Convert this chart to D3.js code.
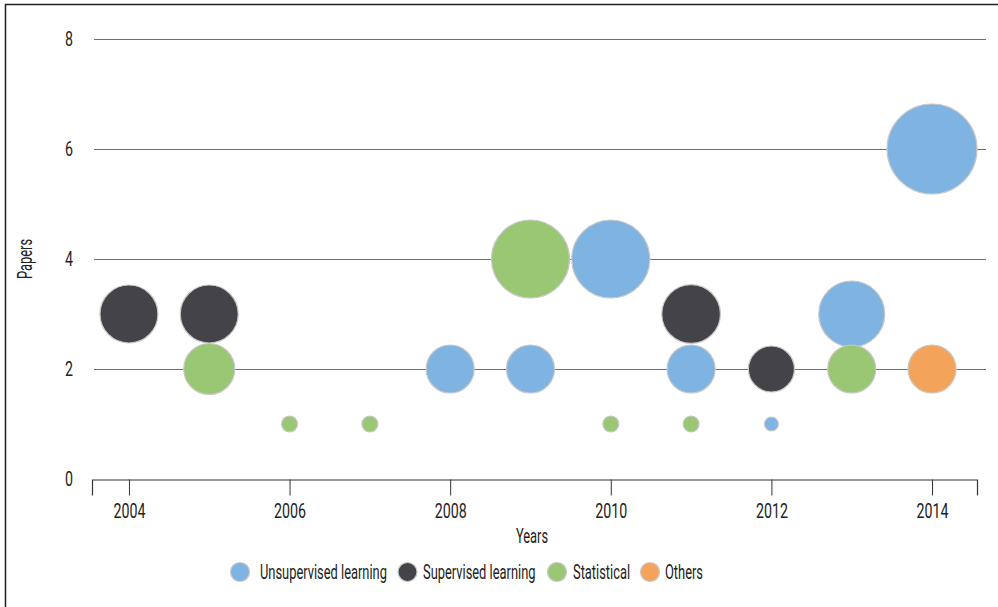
<!DOCTYPE html>
<html><head><meta charset="utf-8">
<script src="https://cdn.jsdelivr.net/npm/d3@7"></script>
<style>
html,body{margin:0;padding:0;background:#fff;}
svg{display:block;}
text{font-family:Roboto,"Noto Sans",sans-serif;fill:#222;}
</style></head>
<body>
<svg id="chart" width="998" height="607"></svg>
<script>
const seriesNames = ["Unsupervised learning","Supervised learning","Statistical","Others"];
const seriesColors = ["#7FB3E1","#434348","#9AC774","#F4A35B"];
// [year, papers, bubble size]
const unsupervised = [[2008,2,1.71],[2009,2,1.71],[2010,4,4.51],[2011,2,1.71],[2012,1,0.145],[2013,3,3.23],[2014,6,6]];
const supervised   = [[2004,3,2.49],[2005,3,2.49],[2011,3,2.55],[2012,2,1.57]];
const statistical  = [[2005,2,1.93],[2006,1,0.19],[2007,1,0.19],[2009,4,4.51],[2010,1,0.19],[2011,1,0.19],[2013,2,1.71]];
const others       = [[2014,2,1.71]];
const seriesData = [unsupervised, supervised, statistical, others];
const xTicks = [2004,2006,2008,2010,2012,2014];
const yTicks = [0,2,4,6,8];
const xDomain = [2003.54, 2014.56];
const yDomain = [0, 8];
const sizeDomain = [0, 6];

const FS = "20px";
const svg = d3.select("#chart");
function natWidth(str){
  const p = svg.append("text").style("font-size",FS).text(str);
  const w = p.node().getComputedTextLength(); p.remove(); return w;
}
// horizontal condensation, so Roboto resembles the narrow face of the original
const condWord = 127 / natWidth("Unsupervised learning");
const condNum = 32 / natWidth("2004");

// frame
svg.append("path").attr("d","M5.5,607 L5.5,4.5 L998,4.5").attr("fill","none").attr("stroke","#222").attr("stroke-width",1.5);

const x = d3.scaleLinear().domain(xDomain).range([92, 977]);
const y = d3.scaleLinear().domain(yDomain).range([479, 39]);
const r = d3.scaleSqrt().domain(sizeDomain).range([0, 45]);

// grid lines
svg.append("g").selectAll("line").data(yTicks.filter(d=>d>0)).join("line")
  .attr("x1", 94).attr("x2", 986)
  .attr("y1", d=>Math.round(y(d))+0.5).attr("y2", d=>Math.round(y(d))+0.5)
  .attr("stroke","#6e6e6e").attr("stroke-width",1);

// y labels
svg.append("g").selectAll("text").data(yTicks).join("text")
  .attr("transform", d=>`translate(73,${y(d)}) scale(${condNum},1)`).attr("dy","0.35em")
  .attr("text-anchor","end").style("font-size",FS).text(d=>d);

// x axis
const xAxis = d3.axisBottom(x).tickValues(xTicks).tickFormat(d3.format("d")).tickSize(16).tickSizeOuter(16).tickPadding(8);
const gx = svg.append("g").attr("transform","translate(0,479.5)").call(xAxis);
gx.select(".domain").attr("stroke","#333").attr("stroke-width",1.2);
gx.selectAll(".tick line").attr("stroke","#333");
gx.selectAll(".tick text").style("font-size",FS).attr("fill","#222")
  .style("font-family","Roboto,'Noto Sans',sans-serif")
  .attr("transform",`scale(${condNum},1)`);

svg.append("text").attr("transform",`translate(532,536) scale(${condWord},1)`).attr("dy","0.35em").attr("text-anchor","middle")
  .style("font-size",FS).text("Years");
svg.append("text").attr("transform",`translate(25,259) rotate(-90) scale(${condWord},1)`).attr("dy","0.35em")
  .attr("text-anchor","middle").style("font-size",FS).text("Papers");

// bubbles
seriesData.forEach((data,i)=>{
  svg.append("g").selectAll("circle").data(data).join("circle")
    .attr("cx", d=>x(d[0])).attr("cy", d=>y(d[1])).attr("r", d=>r(d[2]))
    .attr("fill", seriesColors[i]).attr("stroke","#c8c8c8").attr("stroke-width",1.2);
});

// legend
const legendCircleX = [240, 407.5, 557, 650];
const legendTextX = [260, 423, 573, 665];
const lg = svg.append("g");
seriesNames.forEach((name,i)=>{
  lg.append("circle").attr("cx",legendCircleX[i]).attr("cy",572).attr("r",9.5)
    .attr("fill",seriesColors[i]).attr("stroke","#c8c8c8").attr("stroke-width",1.2);
  lg.append("text").attr("transform",`translate(${legendTextX[i]},572) scale(${condWord},1)`).attr("dy","0.35em")
    .style("font-size",FS).text(name);
});
</script>
</body></html>
